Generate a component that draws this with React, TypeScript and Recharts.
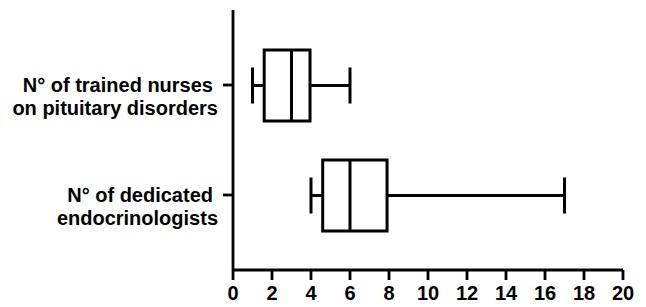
import React from 'react';
import { ComposedChart, Bar, XAxis, YAxis } from 'recharts';

const categories = ['nurses', 'endocrinologists'];
const labelLine1 = ['N° of trained nurses', 'N° of dedicated'];
const labelLine2 = ['on pituitary disorders', 'endocrinologists'];
const mins = [1, 4];
const q1s = [1.6, 4.6];
const medians = [3, 6];
const q3s = [3.95, 7.9];
const maxs = [6, 17];
const xTicks = [0, 2, 4, 6, 8, 10, 12, 14, 16, 18, 20];

const FONT = '"Liberation Sans", Arial, sans-serif';
const FS = 20;

const data = categories.map((c, i) => ({
  name: c,
  range: [mins[i], maxs[i]],
  min: mins[i],
  q1: q1s[i],
  med: medians[i],
  q3: q3s[i],
  max: maxs[i],
}));

const BoxShape = (props: any) => {
  const { x, y, width, height, payload } = props;
  const { min, q1, med, q3, max } = payload;
  const px = (v: number) => x + ((v - min) / (max - min)) * width;
  const cy = y + height / 2;
  const capH = 36;
  const sw = 3;
  return (
    <g stroke="#000" strokeWidth={sw} fill="none">
      <line x1={px(min)} x2={px(q1)} y1={cy} y2={cy} />
      <line x1={px(q3)} x2={px(max)} y1={cy} y2={cy} />
      <line x1={px(min)} x2={px(min)} y1={cy - capH / 2} y2={cy + capH / 2} />
      <line x1={px(max)} x2={px(max)} y1={cy - capH / 2} y2={cy + capH / 2} />
      <rect x={px(q1)} y={y} width={px(q3) - px(q1)} height={height} fill="#fff" />
      <line x1={px(med)} x2={px(med)} y1={y} y2={y + height} />
    </g>
  );
};

const YTick = (props: any) => {
  const { x, y, payload } = props;
  const i = categories.indexOf(payload.value);
  const common = { textAnchor: 'end' as const, fontFamily: FONT, fontSize: FS, fontWeight: 'bold', fill: '#000' };
  return (
    <g>
      <text x={x - 5} y={y + 7} {...common}>{labelLine1[i]}</text>
      <text x={x} y={y + 30} {...common}>{labelLine2[i]}</text>
    </g>
  );
};

export default function App() {
  return (
    <div style={{ width: 646, height: 307, background: '#fff' }}>
      <style>{'body{margin:0}'}</style>
      <ComposedChart
        width={646}
        height={307}
        data={data}
        layout="vertical"
        margin={{ top: 10, right: 23, left: 0, bottom: 0 }}
      >
        <XAxis
          type="number"
          domain={[0, 20]}
          ticks={xTicks}
          interval={0}
          height={37}
          tickSize={10}
          tickMargin={6}
          axisLine={{ stroke: '#000', strokeWidth: 2.8 }}
          tickLine={{ stroke: '#000', strokeWidth: 2.8 }}
          tick={{ fill: '#000', fontSize: FS, fontWeight: 'bold', fontFamily: FONT }}
        />
        <YAxis
          type="category"
          dataKey="name"
          width={233}
          padding={{ top: 20, bottom: 20 }}
          tickSize={10}
          tickMargin={5}
          axisLine={{ stroke: '#000', strokeWidth: 2.8 }}
          tickLine={{ stroke: '#000', strokeWidth: 2.8 }}
          tick={<YTick />}
        />
        <Bar dataKey="range" barSize={71} shape={<BoxShape />} isAnimationActive={false} />
      </ComposedChart>
    </div>
  );
}
